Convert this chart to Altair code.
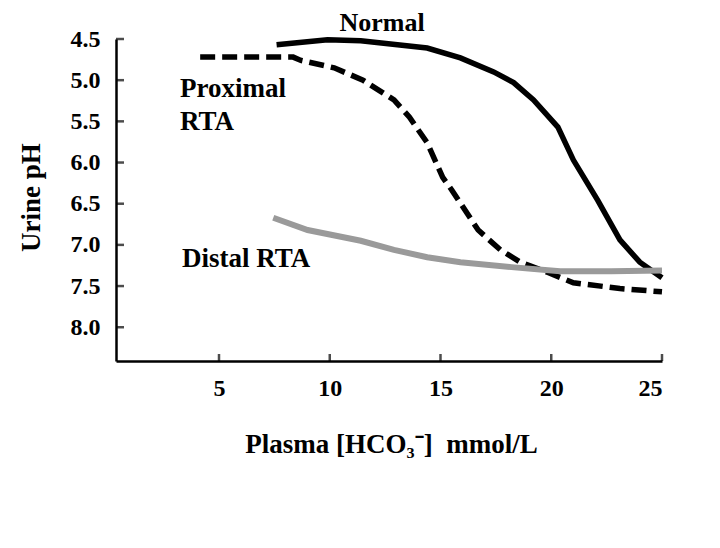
import altair as alt
import pandas as pd

# Data
normal_x = [7.6, 9.9, 11.4, 14.4, 15.9, 17.4, 18.3, 19.2, 20.3, 21.0, 22.1, 23.1, 24.0, 25.0]
normal_y = [4.57, 4.51, 4.52, 4.61, 4.73, 4.90, 5.03, 5.24, 5.57, 5.97, 6.46, 6.94, 7.21, 7.40]

prox_x = [4.15, 8.35, 8.7, 10.2, 11.5, 12.9, 13.6, 14.4, 15.1, 15.5, 16.7, 17.7, 18.6, 19.8, 21.0, 23.1, 25.0]
prox_y = [4.72, 4.72, 4.76, 4.85, 5.00, 5.24, 5.45, 5.76, 6.18, 6.33, 6.82, 7.06, 7.21, 7.33, 7.46, 7.53, 7.57]

distal_x = [7.45, 9.0, 11.4, 12.9, 14.4, 15.9, 18.2, 20.4, 22.7, 25.0]
distal_y = [6.67, 6.82, 6.95, 7.06, 7.15, 7.21, 7.27, 7.32, 7.32, 7.31]

x_ticks = [5, 10, 15, 20, 25]
y_ticks = [4.5, 5.0, 5.5, 6.0, 6.5, 7.0, 7.5, 8.0]

ann_text = ["Normal", "Proximal", "RTA", "Distal RTA"]
ann_x = [12.36, 3.24, 3.24, 3.33]
ann_y = [4.40, 5.205, 5.606, 7.27]
ann_size = [26, 27, 27, 27]
ann_align = ["center", "left", "left", "left"]

FONT = "Liberation Serif"

xscale = alt.Scale(domain=[0.35, 25], nice=False, zero=False)
yscale = alt.Scale(domain=[4.5, 8.41], nice=False, zero=False, reverse=True)

xaxis = alt.Axis(
    values=x_ticks, format="d", ticks=False, grid=False,
    domainColor="black", domainWidth=2.5,
    labelFont=FONT, labelFontWeight="bold", labelFontSize=24, labelColor="black",
    labelPadding=27, labelBaseline="middle",
    title="Plasma [HCO₃⁻]\u00a0\u00a0mmol/L",
    titleFont=FONT, titleFontWeight="bold", titleFontSize=27, titleColor="black",
    titleX=275, titleY=83, titleBaseline="middle", titleAlign="center",
)
yaxis = alt.Axis(
    values=y_ticks, format=".1f", ticks=False, grid=False,
    domainColor="black", domainWidth=2.5,
    labelFont=FONT, labelFontWeight="bold", labelFontSize=24, labelColor="black",
    labelPadding=16,
    title="Urine pH",
    titleFont=FONT, titleFontWeight="bold", titleFontSize=27, titleColor="black",
    titleX=-85, titleY=158, titleAngle=-90, titleBaseline="middle", titleAlign="center",
)

df_n = pd.DataFrame({"x": normal_x, "y": normal_y})
df_p = pd.DataFrame({"x": prox_x, "y": prox_y})
df_d = pd.DataFrame({"x": distal_x, "y": distal_y})

base_axes = alt.Chart(df_n).mark_line(color="black", strokeWidth=5.5).encode(
    x=alt.X("x:Q", scale=xscale, axis=xaxis),
    y=alt.Y("y:Q", scale=yscale, axis=yaxis),
    order="x:Q",
)

prox = alt.Chart(df_p).mark_line(color="black", strokeWidth=5.5, strokeDash=[15, 7]).encode(
    x=alt.X("x:Q", scale=xscale),
    y=alt.Y("y:Q", scale=yscale),
    order="x:Q",
)

distal = alt.Chart(df_d).mark_line(color="#9a9a9a", strokeWidth=6).encode(
    x=alt.X("x:Q", scale=xscale),
    y=alt.Y("y:Q", scale=yscale),
    order="x:Q",
)

yt = alt.Chart(pd.DataFrame({"v": y_ticks})).mark_tick(
    orient="horizontal", color="black", thickness=2.5, size=8
).encode(y=alt.Y("v:Q", scale=yscale), x=alt.value(4))

xt = alt.Chart(pd.DataFrame({"v": x_ticks})).mark_tick(
    orient="vertical", color="black", thickness=2.5, size=7
).encode(x=alt.X("v:Q", scale=xscale), y=alt.value(318.5))

ann_df = pd.DataFrame({"t": ann_text, "x": ann_x, "y": ann_y, "s": ann_size, "a": ann_align})
ann_c = alt.Chart(ann_df[ann_df.a == "center"]).mark_text(
    font=FONT, fontWeight="bold", color="black", align="center", baseline="alphabetic"
).encode(x=alt.X("x:Q", scale=xscale), y=alt.Y("y:Q", scale=yscale), text="t:N",
         size=alt.Size("s:Q", scale=None, legend=None))
ann_l = alt.Chart(ann_df[ann_df.a == "left"]).mark_text(
    font=FONT, fontWeight="bold", color="black", align="left", baseline="alphabetic"
).encode(x=alt.X("x:Q", scale=xscale), y=alt.Y("y:Q", scale=yscale), text="t:N",
         size=alt.Size("s:Q", scale=None, legend=None))

chart = alt.layer(base_axes, prox, distal, yt, xt, ann_c, ann_l).properties(
    width=546, height=322,
    autosize=alt.AutoSizeParams(type="none"),
    padding={"left": 108, "top": 31, "right": 50, "bottom": 179},
    background="white",
).configure_view(stroke=None)

chart.save("out.html", embed_options={"renderer": "svg", "actions": False})
